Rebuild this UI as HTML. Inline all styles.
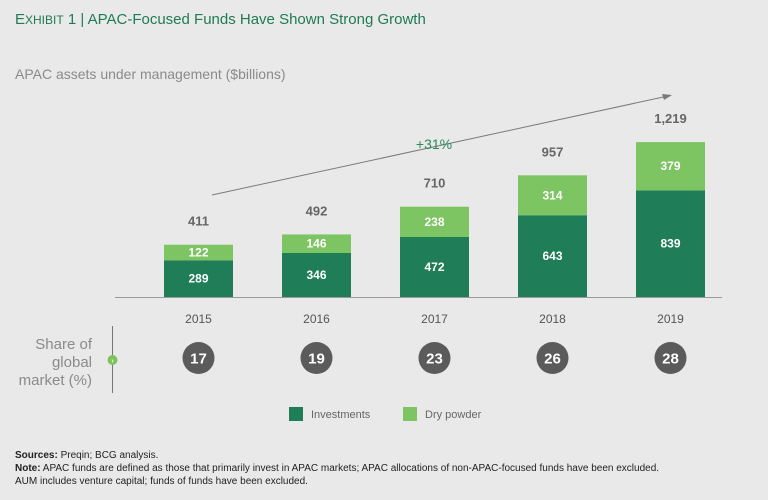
<!DOCTYPE html>
<html><head><meta charset="utf-8"><style>
body{margin:0;background:#e9e9ea;font-family:"Liberation Sans",sans-serif;}
svg{display:block}
</style></head><body>
<svg width="768" height="500" viewBox="0 0 768 500">
<rect width="768" height="500" fill="#e9e9ea"/>
<text x="15" y="24" font-size="15" fill="#1f7a57">E<tspan font-size="12">XHIBIT</tspan> 1 | APAC-Focused Funds Have Shown Strong Growth</text>
<text x="15" y="79" font-size="14" fill="#8a8a8a">APAC assets under management ($billions)</text>
<line x1="115" y1="297.5" x2="722" y2="297.5" stroke="#9a9a9a" stroke-width="1"/>
<line x1="212" y1="195" x2="668" y2="96" stroke="#7a7a7a" stroke-width="1"/>
<polygon points="672,95 662,94 664,100" fill="#7a7a7a"/>
<text x="434" y="149" font-size="14" fill="#2b8a5e" text-anchor="middle">+31%</text>
<g id="bars"></g>
<g id="shares"></g>
<text x="92" y="349" font-size="15" fill="#8a8a8a" text-anchor="end">Share of</text>
<text x="92" y="367" font-size="15" fill="#8a8a8a" text-anchor="end">global</text>
<text x="92" y="385" font-size="15" fill="#8a8a8a" text-anchor="end">market (%)</text>
<line x1="112.5" y1="326" x2="112.5" y2="393" stroke="#777"/>
<circle cx="112.5" cy="360" r="5" fill="#7cc35e"/>
<text x="112.5" y="363" font-size="7" fill="#fff" text-anchor="middle" font-weight="bold">›</text>
<rect x="289" y="407" width="14" height="14" fill="#1f7d57"/>
<text x="311" y="418" font-size="11" fill="#666">Investments</text>
<rect x="403" y="407" width="14" height="14" fill="#7dc462"/>
<text x="425" y="418" font-size="11" fill="#666">Dry powder</text>
<g font-size="10" fill="#222">
<text x="15" y="458"><tspan font-weight="bold">Sources:</tspan> Preqin; BCG analysis.</text>
<text x="15" y="471"><tspan font-weight="bold">Note:</tspan> APAC funds are defined as those that primarily invest in APAC markets; APAC allocations of non-APAC-focused funds have been excluded.</text>
<text x="15" y="484">AUM includes venture capital; funds of funds have been excluded.</text>
</g>
</svg>
<script>
const years=["2015","2016","2017","2018","2019"];
const investments=[289,346,472,643,839];
const dryPowder=[122,146,238,314,379];
const totals=["411","492","710","957","1,219"];
const shares=[17,19,23,26,28];
const NS="http://www.w3.org/2000/svg";
const base=297, k=155/1219, x0=164, pitch=118, bw=69;
const yS=v=>base-v*k, xS=i=>x0+i*pitch;
const bars=document.getElementById('bars'), sh=document.getElementById('shares');
function mk(tag,attrs,parent,txt){const e=document.createElementNS(NS,tag);for(const a in attrs)e.setAttribute(a,attrs[a]);if(txt!==undefined)e.textContent=txt;parent.appendChild(e);return e;}
years.forEach((y,i)=>{
 const x=xS(i),cx=x+bw/2,inv=investments[i],dp=dryPowder[i];
 const r1=mk('rect',{x:x,y:yS(inv),width:bw,height:inv*k,fill:'#1f7d57'},bars);
 
 
 const r2=mk('rect',{x:x,y:yS(inv+dp),width:bw,height:dp*k,fill:'#7dc462'},bars);
 
 
 const t1=mk('text',{x:cx,y:(yS(inv)+base)/2+4,'font-size':12,'font-weight':'bold',fill:'#fff','text-anchor':'middle'},bars,String(inv));
 
 
 const t2=mk('text',{x:cx,y:(yS(inv)+yS(inv+dp))/2+4,'font-size':12,'font-weight':'bold',fill:'#fff','text-anchor':'middle'},bars,String(dp));
 
 
 const t3=mk('text',{x:cx,y:yS(inv+dp)-19,'font-size':13,'font-weight':'bold',fill:'#666','text-anchor':'middle'},bars,totals[i]);
 
 
 const t4=mk('text',{x:cx,y:323,'font-size':12,fill:'#555','text-anchor':'middle'},bars,y);
 
 
 const c=mk('circle',{cx:cx,cy:358,r:16,fill:'#5b5b5b'},sh);
 
 
 const t5=mk('text',{x:cx,y:363.5,'font-size':15,'font-weight':'bold',fill:'#fff','text-anchor':'middle'},sh,String(shares[i]));
 
 
});
</script>
</body></html>
